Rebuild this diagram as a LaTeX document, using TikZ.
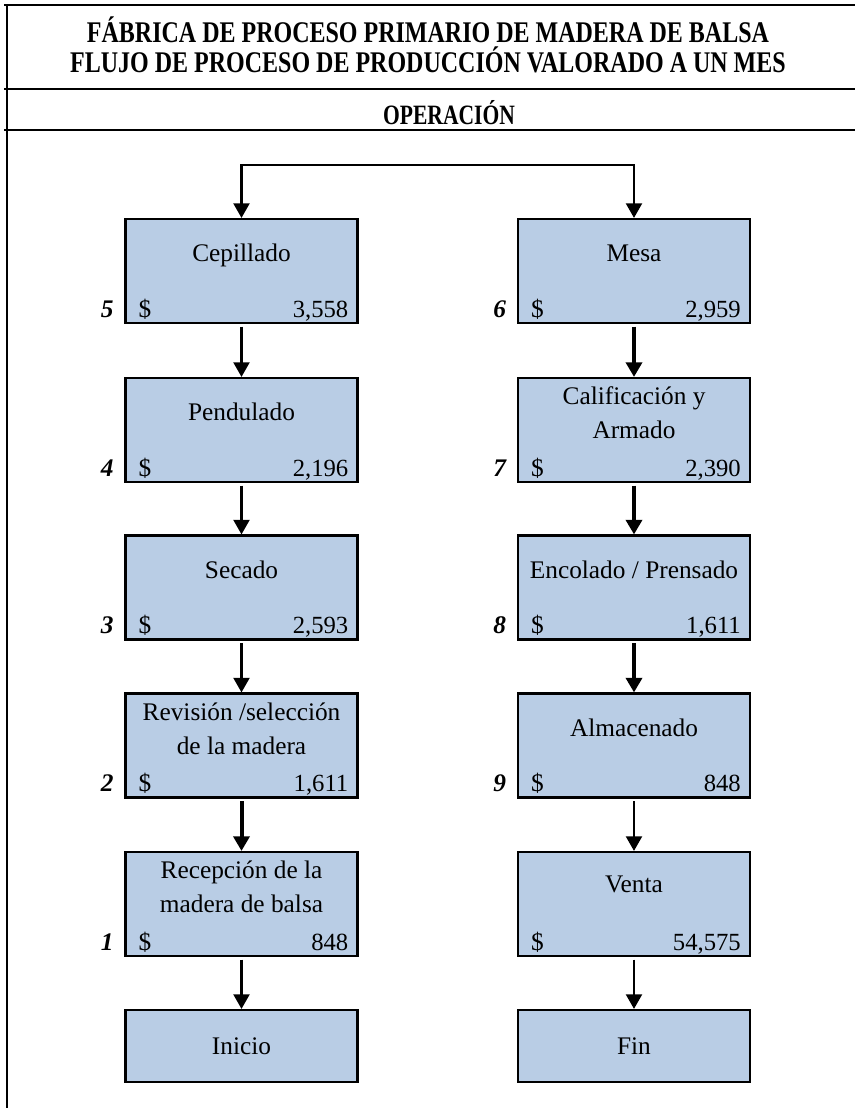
\documentclass[tikz,border=0pt]{standalone}
\usepackage{fontspec}
\setmainfont{Liberation Serif}
\usepackage{graphicx}
\usetikzlibrary{arrows.meta,positioning}
\definecolor{boxblue}{HTML}{B9CDE5}
\newcommand{\boxfont}{\fontsize{19}{23}\selectfont}

\tikzset{
  procbox/.style={draw=black, line width=1.6pt, fill=boxblue, minimum width=174pt,
    minimum height=78pt, inner sep=0pt, font=\boxfont},
  endbox/.style={procbox, minimum height=54pt},
  boxtitle/.style={anchor=base, inner sep=0pt, font=\boxfont},
  dollar/.style={anchor=base west, inner sep=0pt, font=\boxfont},
  amount/.style={anchor=base east, inner sep=0pt, font=\fontsize{18.5}{22}\selectfont},
  stepnum/.style={anchor=base east, inner sep=0pt, font=\boxfont\bfseries\itshape},
  flow/.style={-{Triangle[width=12pt,length=11pt]}, line width=1.8pt, shorten <=2pt},
  flowbold/.style={flow, line width=3pt},
  frameline/.style={line width=2.2pt},
  headtext/.style={anchor=base, inner sep=0pt, font=\bfseries\fontsize{22.5}{26}\selectfont}
}

\begin{document}
\begin{tikzpicture}[x=0.75pt,y=-0.75pt]
    \useasboundingbox (0,0) rectangle (855,1110);
    % frame and header
    \draw[frameline] (4,5) -- (855,5);
    \draw[frameline] (4,89) -- (855,89);
    \draw[frameline] (4,130) -- (855,130);
    \draw[frameline] (7,4) -- (7,1108);
    \node[headtext] (title1) at (428,42) {\scalebox{0.8}[1]{FÁBRICA DE PROCESO PRIMARIO DE MADERA DE BALSA}};
    \node[headtext] (title2) at (428,72) {\scalebox{0.8}[1]{FLUJO DE PROCESO DE PRODUCCIÓN VALORADO A UN MES}};
    \node[headtext, font=\bfseries\fontsize{21}{25}\selectfont] (oper) at (449,124) {\scalebox{0.77}[1]{OPERACIÓN}};

    % left column
    \node[procbox] (cep) at (241.5,271) {};
    \node[boxtitle] (cepT) at ([yshift=-33pt]cep.north) {Cepillado};
    \node[dollar] (cepD) at ([xshift=10.5pt,yshift=5.25pt]cep.south west) {\$};
    \node[amount] (cepV) at ([xshift=-7.5pt,yshift=5.25pt]cep.south east) {3,558};
    \node[stepnum] (cepN) at ([xshift=-8pt,yshift=5.25pt]cep.south west) {5};

    \node[procbox] (pend) at (241.5,430) {};
    \node[boxtitle] (pendT) at ([yshift=-33pt]pend.north) {Pendulado};
    \node[dollar] (pendD) at ([xshift=10.5pt,yshift=5.25pt]pend.south west) {\$};
    \node[amount] (pendV) at ([xshift=-7.5pt,yshift=5.25pt]pend.south east) {2,196};
    \node[stepnum] (pendN) at ([xshift=-8pt,yshift=5.25pt]pend.south west) {4};

    \node[procbox] (sec) at (241.5,587.5) {};
    \node[boxtitle] (secT) at ([yshift=-33pt]sec.north) {Secado};
    \node[dollar] (secD) at ([xshift=10.5pt,yshift=5.25pt]sec.south west) {\$};
    \node[amount] (secV) at ([xshift=-7.5pt,yshift=5.25pt]sec.south east) {2,593};
    \node[stepnum] (secN) at ([xshift=-8pt,yshift=5.25pt]sec.south west) {3};

    \node[procbox] (rev) at (241.5,745.5) {};
    \node[boxtitle] (revT) at ([yshift=-21pt]rev.north) {Revisión /selección};
    \node[boxtitle] (revU) at ([yshift=-46.5pt]rev.north) {de la madera};
    \node[dollar] (revD) at ([xshift=10.5pt,yshift=5.25pt]rev.south west) {\$};
    \node[amount] (revV) at ([xshift=-7.5pt,yshift=5.25pt]rev.south east) {1,611};
    \node[stepnum] (revN) at ([xshift=-8pt,yshift=5.25pt]rev.south west) {2};

    \node[procbox] (rec) at (241.5,904) {};
    \node[boxtitle] (recT) at ([yshift=-21pt]rec.north) {Recepción de la};
    \node[boxtitle] (recU) at ([yshift=-46.5pt]rec.north) {madera de balsa};
    \node[dollar] (recD) at ([xshift=10.5pt,yshift=5.25pt]rec.south west) {\$};
    \node[amount] (recV) at ([xshift=-7.5pt,yshift=5.25pt]rec.south east) {848};
    \node[stepnum] (recN) at ([xshift=-8pt,yshift=5.25pt]rec.south west) {1};

    \node[endbox] (ini) at (241.5,1046) {Inicio};

    % right column
    \node[procbox] (mesa) at (634,271) {};
    \node[boxtitle] (mesaT) at ([yshift=-33pt]mesa.north) {Mesa};
    \node[dollar] (mesaD) at ([xshift=10.5pt,yshift=5.25pt]mesa.south west) {\$};
    \node[amount] (mesaV) at ([xshift=-7.5pt,yshift=5.25pt]mesa.south east) {2,959};
    \node[stepnum] (mesaN) at ([xshift=-8pt,yshift=5.25pt]mesa.south west) {6};

    \node[procbox] (calif) at (634,430) {};
    \node[boxtitle] (califT) at ([yshift=-21pt]calif.north) {Calificación y};
    \node[boxtitle] (califU) at ([yshift=-46.5pt]calif.north) {Armado};
    \node[dollar] (califD) at ([xshift=10.5pt,yshift=5.25pt]calif.south west) {\$};
    \node[amount] (califV) at ([xshift=-7.5pt,yshift=5.25pt]calif.south east) {2,390};
    \node[stepnum] (califN) at ([xshift=-8pt,yshift=5.25pt]calif.south west) {7};

    \node[procbox] (enc) at (634,587.5) {};
    \node[boxtitle] (encT) at ([yshift=-33pt]enc.north) {Encolado / Prensado};
    \node[dollar] (encD) at ([xshift=10.5pt,yshift=5.25pt]enc.south west) {\$};
    \node[amount] (encV) at ([xshift=-7.5pt,yshift=5.25pt]enc.south east) {1,611};
    \node[stepnum] (encN) at ([xshift=-8pt,yshift=5.25pt]enc.south west) {8};

    \node[procbox] (alm) at (634,745.5) {};
    \node[boxtitle] (almT) at ([yshift=-33pt]alm.north) {Almacenado};
    \node[dollar] (almD) at ([xshift=10.5pt,yshift=5.25pt]alm.south west) {\$};
    \node[amount] (almV) at ([xshift=-7.5pt,yshift=5.25pt]alm.south east) {848};
    \node[stepnum] (almN) at ([xshift=-8pt,yshift=5.25pt]alm.south west) {9};

    \node[procbox] (venta) at (634,904) {};
    \node[boxtitle] (ventaT) at ([yshift=-31.5pt]venta.north) {Venta};
    \node[dollar] (ventaD) at ([xshift=10.5pt,yshift=5.25pt]venta.south west) {\$};
    \node[amount] (ventaV) at ([xshift=-7.5pt,yshift=5.25pt]venta.south east) {54,575};

    \node[endbox] (fin) at (634,1046) {Fin};

    % connectors
    \coordinate (fork) at (438,165);
    \draw[flow, shorten <=0pt] (fork) -| (cep.north);
    \draw[flow, shorten <=0pt] (fork) -| (mesa.north);
    \draw[flow] (cep.south) -- (pend.north);
    \draw[flow] (pend.south) -- (sec.north);
    \draw[flow] (sec.south) -- (rev.north);
    \draw[flowbold] (rev.south) -- (rec.north);
    \draw[flow] (rec.south) -- (ini.north);
    \draw[flowbold] (mesa.south) -- (calif.north);
    \draw[flowbold] (calif.south) -- (enc.north);
    \draw[flowbold] (enc.south) -- (alm.north);
    \draw[flow] (alm.south) -- (venta.north);
    \draw[flow] (venta.south) -- (fin.north);
\end{tikzpicture}
\end{document}
